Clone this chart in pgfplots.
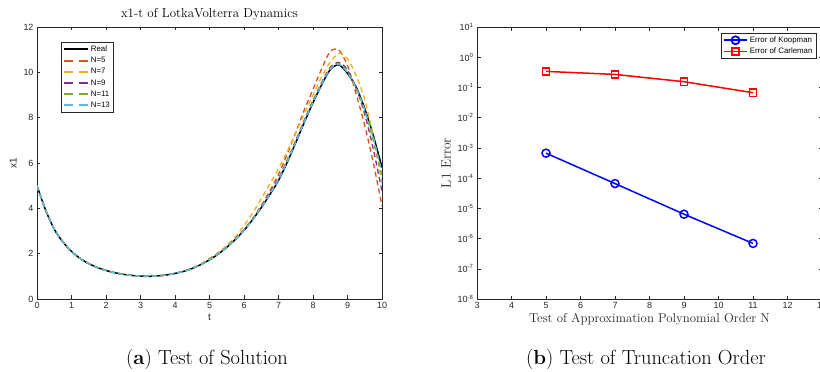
\documentclass[border=0pt]{standalone}
\usepackage{fontspec}
\usepackage{pgfplots}
\pgfplotsset{compat=1.18}
\usepackage{pgfplotstable}
\newfontfamily\helv{Liberation Sans}
\definecolor{mgray}{rgb}{0.15,0.15,0.15}
\definecolor{c5}{rgb}{0.85,0.325,0.098}
\definecolor{c7}{rgb}{0.929,0.694,0.125}
\definecolor{c9}{rgb}{0.494,0.184,0.556}
\definecolor{c11}{rgb}{0.466,0.674,0.188}
\definecolor{c13}{rgb}{0.301,0.745,0.933}
\pgfplotstableread{
t R N5 N7 N9 N11 N13
0.00 5.00 5.00 5.00 5.00 5.00 5.00
0.25 3.92 3.92 3.92 3.92 3.92 3.92
0.50 3.08 3.08 3.08 3.08 3.08 3.08
0.75 2.52 2.52 2.52 2.52 2.52 2.52
1.00 2.10 2.10 2.10 2.10 2.10 2.10
1.25 1.79 1.79 1.79 1.79 1.79 1.79
1.50 1.56 1.56 1.56 1.56 1.56 1.56
1.75 1.39 1.39 1.39 1.39 1.39 1.39
2.00 1.26 1.26 1.26 1.26 1.26 1.26
2.25 1.16 1.16 1.16 1.16 1.16 1.16
2.50 1.09 1.09 1.09 1.09 1.09 1.09
2.75 1.04 1.04 1.04 1.04 1.04 1.04
3.00 1.01 1.01 1.01 1.01 1.01 1.01
3.25 1.00 1.00 1.00 1.00 1.00 1.00
3.50 1.02 1.02 1.02 1.02 1.02 1.02
3.75 1.06 1.06 1.06 1.06 1.06 1.06
4.00 1.13 1.13 1.13 1.13 1.13 1.13
4.25 1.22 1.23 1.22 1.22 1.22 1.22
4.50 1.35 1.37 1.36 1.35 1.35 1.35
4.75 1.52 1.55 1.54 1.52 1.52 1.52
5.00 1.73 1.78 1.76 1.74 1.73 1.73
5.25 1.98 2.04 2.03 1.99 1.98 1.98
5.50 2.28 2.33 2.36 2.29 2.28 2.28
5.75 2.63 2.66 2.76 2.65 2.63 2.63
6.00 3.03 3.06 3.24 3.05 3.03 3.03
6.25 3.50 3.55 3.80 3.53 3.51 3.50
6.50 4.03 4.12 4.42 4.07 4.05 4.04
6.75 4.61 4.78 5.08 4.68 4.64 4.62
7.00 5.23 5.50 5.75 5.33 5.28 5.25
7.25 6.02 6.38 6.50 6.12 6.08 6.04
7.50 6.90 7.35 7.33 7.00 6.95 6.92
7.75 7.80 8.35 8.18 7.90 7.85 7.82
8.00 8.66 9.25 9.00 8.76 8.71 8.68
8.25 9.45 10.15 9.80 9.55 9.50 9.47
8.50 10.12 10.92 10.45 10.22 10.17 10.14
8.75 10.33 10.98 10.83 10.44 10.39 10.36
9.00 9.95 10.30 10.60 10.10 10.02 9.98
9.25 9.35 9.05 9.85 9.30 9.30 9.33
9.50 8.40 7.65 8.80 8.15 8.30 8.35
9.75 7.20 6.00 7.15 6.60 6.95 7.10
10.00 5.80 4.10 5.10 4.75 5.40 5.60
}\lvdata

\begin{document}
\begin{tikzpicture}
\path[use as bounding box] (0,0) rectangle (820bp,372bp);
\begin{axis}[
  at={(37bp,73bp)}, anchor=south west, scale only axis,
  width=345bp, height=272bp,
  xmin=0, xmax=10, ymin=0, ymax=12,
  xtick={0,1,...,10}, ytick={0,2,...,12},
  tick align=inside, major tick length=3.5bp,
  tick style={mgray, line width=0.5bp},
  axis line style={mgray, line width=0.6bp},
  ticklabel style={font=\helv\fontsize{9}{10}\selectfont, text=mgray},
  /pgf/number format/assume math mode=true,
  xlabel={t}, ylabel={x1},
  label style={font=\helv\fontsize{10}{12}\selectfont, text=mgray},
  xlabel style={yshift=2bp},
  title={x1-t of LotkaVolterra Dynamics},
  title style={font=\fontsize{13}{15}\selectfont, yshift=-3bp},
  legend style={at={(0.07,0.945)}, anchor=north west,
    font=\helv\fontsize{7.9}{9}\selectfont, draw=mgray,
    inner sep=1.5bp, row sep=0.3bp},
  legend cell align=left,
  legend image code/.code={\draw[#1, line width=2bp] (0bp,0bp) -- (24bp,0bp);},
  dashleg/.style={legend image code/.code={\draw[##1, line width=2bp, dash pattern=on 9bp off 6bp] (0bp,0bp) -- (24bp,0bp);}},
]
\addplot[black, line width=1.5bp, smooth] table[x=t,y=R]{\lvdata};
\addplot[c5, line width=1.3bp, smooth, dash pattern=on 5bp off 3.5bp, dashleg] table[x=t,y=N5]{\lvdata};
\addplot[c7, line width=1.3bp, smooth, dash pattern=on 5bp off 3.5bp, dashleg] table[x=t,y=N7]{\lvdata};
\addplot[c9, line width=1.3bp, smooth, dash pattern=on 5bp off 3.5bp, dashleg] table[x=t,y=N9]{\lvdata};
\addplot[c11, line width=1.3bp, smooth, dash pattern=on 5bp off 3.5bp, dashleg] table[x=t,y=N11]{\lvdata};
\addplot[c13, line width=1.3bp, smooth, dash pattern=on 5bp off 3.5bp, dashleg] table[x=t,y=N13]{\lvdata};
\legend{Real,N=5,N=7,N=9,N=11,N=13}
\end{axis}

\begin{axis}[
  at={(477bp,73bp)}, anchor=south west, scale only axis,
  width=345bp, height=272bp,
  ymode=log,
  xmin=3, xmax=13, ymin=1e-8, ymax=10,
  xtick={3,4,...,13},
  ytick={1e-8,1e-7,1e-6,1e-5,1e-4,1e-3,1e-2,1e-1,1,10},
  yticklabels={10\textsuperscript{-8},10\textsuperscript{-7},10\textsuperscript{-6},10\textsuperscript{-5},10\textsuperscript{-4},10\textsuperscript{-3},10\textsuperscript{-2},10\textsuperscript{-1},10\textsuperscript{0},10\textsuperscript{1}},
  yminorticks=false,
  tick align=inside, major tick length=3.5bp,
  tick style={mgray, line width=0.5bp},
  axis line style={mgray, line width=0.6bp},
  ticklabel style={font=\helv\fontsize{9}{10}\selectfont, text=mgray},
  /pgf/number format/assume math mode=true,
  xlabel={Test of Approximation Polynomial Order N},
  ylabel={L1 Error},
  xlabel style={font=\fontsize{12.9}{14}\selectfont, text=mgray, yshift=2bp},
  ylabel style={font=\fontsize{13.5}{15}\selectfont, text=mgray},
  legend style={at={(0.983,0.978)}, anchor=north east,
    font=\helv\fontsize{7.9}{9}\selectfont, draw=mgray,
    inner sep=1.5bp, row sep=0bp},
  legend cell align=left,
  legend image code/.code={\draw[mark repeat=2,mark phase=2,#1, line width=1.8bp] plot coordinates {(0bp,0bp) (11.5bp,0bp) (23bp,0bp)};},
]
\addplot[blue, line width=1.5bp, mark=o, mark size=4bp] coordinates {(5,6.7e-4) (7,6.6e-5) (9,6.4e-6) (11,6.9e-7)};
\addplot[red, line width=1.5bp, mark=square, mark size=3.6bp] coordinates {(5,0.34) (7,0.27) (9,0.155) (11,0.067)};
\legend{Error of Koopman,Error of Carleman}
\end{axis}

\node[font=\fontsize{20.5}{24}\selectfont] at (207bp,13bp) {(\textbf{a}) Test of Solution};
\node[font=\fontsize{20.5}{24}\selectfont] at (646bp,13bp) {(\textbf{b}) Test of Truncation Order};
\end{tikzpicture}
\end{document}
